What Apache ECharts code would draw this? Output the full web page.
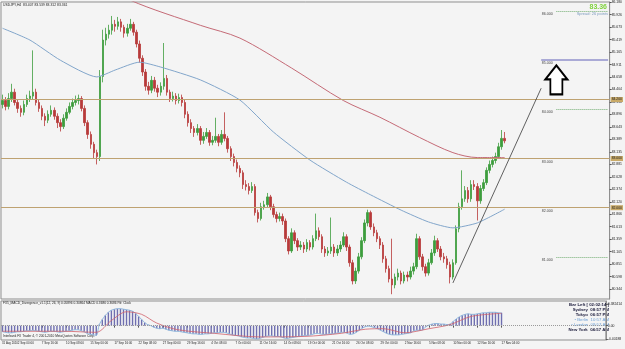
<!DOCTYPE html>
<html>
<head>
<meta charset="utf-8">
<script src="https://cdn.jsdelivr.net/npm/echarts@6/dist/echarts.min.js"></script>
<style>
html, body { margin: 0; padding: 0; background: #f4f4f4; }
#chart { width: 625px; height: 349px; }
</style>
</head>
<body>
<div id="chart"></div>
<script>
// USDJPY H4 terminal screenshot - candles (one candle per 8 hours)
var closes = [
  84.18, 84.06, 84.22, 84.35, 84.14, 84.02, 83.94, 84.10, 84.22, 84.27,
  84.35, 84.14, 84.02, 83.86, 83.78, 83.90, 83.98, 83.86, 83.73, 83.65,
  83.82, 83.94, 84.06, 84.14, 84.18, 84.22, 84.02, 83.73, 83.49, 83.29,
  83.12, 83.04, 84.67, 85.41, 85.53, 85.61, 85.73, 85.69, 85.78, 85.67,
  85.55, 85.65, 85.73, 85.57, 85.33, 85.04, 84.76, 84.47, 84.39, 84.59,
  84.43, 84.35, 84.47, 84.63, 84.35, 84.22, 84.27, 84.18, 84.24, 84.14,
  83.90, 83.73, 83.61, 83.53, 83.61, 83.37, 83.45, 83.53, 83.33, 83.37,
  83.45, 83.33, 83.49, 83.41, 83.20, 83.04, 82.92, 82.80, 82.71, 82.47,
  82.43, 82.35, 82.43, 81.90, 81.78, 82.02, 82.06, 82.22, 82.02, 81.86,
  81.78, 81.82, 81.73, 81.37, 81.12, 81.49, 81.33, 81.20, 81.24, 81.16,
  81.29, 81.20, 81.37, 81.53, 81.41, 81.16, 81.08, 81.12, 81.20, 81.08,
  81.16, 81.24, 81.41, 81.20, 80.88, 80.51, 80.71, 81.00, 81.33, 81.69,
  81.90, 81.61, 81.49, 81.37, 81.24, 80.96, 80.76, 80.55, 80.43, 80.59,
  80.67, 80.51, 80.63, 80.59, 80.71, 80.80, 81.37, 81.00, 80.80, 80.67,
  80.88, 81.08, 81.33, 81.16, 81.00, 80.96, 80.84, 80.59, 80.88, 81.57,
  82.02, 82.18, 82.35, 82.18, 82.47, 82.43, 82.14, 82.39, 82.51, 82.76,
  82.88, 82.96, 83.04, 83.24, 83.41, 83.36
];
var highs = [
  84.30, 84.25, 84.33, 84.52, 84.42, 84.20, 84.08, 84.18, 84.30, 84.38,
  85.20, 84.42, 84.20, 84.08, 83.92, 83.98, 84.08, 84.04, 83.92, 83.80,
  83.90, 84.02, 84.14, 84.22, 84.28, 84.30, 84.27, 84.08, 83.78, 83.55,
  83.34, 83.18, 84.80, 85.62, 85.66, 85.72, 85.90, 85.82, 85.88, 85.84,
  85.72, 85.74, 85.84, 85.78, 85.62, 85.40, 85.10, 84.82, 84.56, 84.68,
  84.66, 84.50, 84.55, 85.35, 84.70, 84.40, 84.36, 84.33, 84.32, 84.30,
  84.20, 83.96, 83.80, 83.66, 83.70, 83.66, 83.54, 83.62, 83.58, 83.46,
  83.83, 83.50, 83.58, 83.94, 83.46, 83.25, 83.10, 82.98, 82.86, 82.76,
  82.56, 82.50, 82.52, 82.48, 81.96, 82.10, 82.14, 82.30, 82.26, 82.08,
  81.92, 81.90, 81.88, 81.78, 81.42, 81.58, 81.54, 81.38, 81.32, 81.30,
  81.36, 81.34, 81.44, 81.88, 81.60, 81.46, 81.22, 81.20, 81.80, 81.26,
  81.24, 81.32, 81.50, 81.46, 81.25, 80.94, 80.78, 81.08, 81.40, 81.76,
  81.96, 81.94, 81.68, 81.55, 81.42, 81.30, 81.02, 80.82, 81.37, 80.66,
  80.76, 80.72, 80.70, 80.70, 80.80, 80.88, 81.47, 81.42, 81.06, 80.86,
  80.96, 81.16, 81.43, 81.38, 81.22, 81.08, 81.02, 80.90, 80.95, 81.64,
  82.10, 82.76, 82.44, 82.42, 82.56, 82.56, 82.50, 82.46, 82.58, 82.82,
  82.96, 83.04, 83.12, 83.32, 83.58, 83.54
];
var lows = [
  84.02, 83.98, 84.00, 84.15, 84.08, 83.93, 83.85, 83.88, 84.05, 84.15,
  84.20, 84.08, 83.95, 83.78, 83.66, 83.72, 83.85, 83.79, 83.62, 83.55,
  83.60, 83.77, 83.90, 84.00, 84.08, 84.10, 83.96, 83.66, 83.40, 83.20,
  83.00, 82.88, 82.95, 84.55, 85.30, 85.44, 85.52, 85.58, 85.62, 85.58,
  85.46, 85.48, 85.60, 85.50, 85.26, 84.95, 84.68, 84.38, 84.30, 84.33,
  84.36, 84.25, 84.28, 84.40, 84.28, 84.15, 84.16, 84.10, 84.12, 84.06,
  83.82, 83.65, 83.52, 83.44, 83.47, 83.28, 83.30, 83.40, 83.26, 83.27,
  83.32, 83.25, 83.28, 83.35, 83.12, 82.95, 82.84, 82.72, 82.62, 82.38,
  82.35, 82.27, 82.30, 81.84, 81.70, 81.74, 81.96, 82.00, 81.95, 81.80,
  81.70, 81.72, 81.65, 81.30, 81.05, 81.08, 81.26, 81.12, 81.14, 81.08,
  81.10, 81.13, 81.15, 81.32, 81.34, 81.08, 81.00, 81.02, 81.06, 81.00,
  81.02, 81.10, 81.20, 81.12, 80.80, 80.44, 80.45, 80.66, 80.95, 81.28,
  81.62, 81.55, 81.42, 81.30, 81.16, 80.88, 80.68, 80.48, 80.24, 80.36,
  80.52, 80.44, 80.46, 80.50, 80.54, 80.64, 80.75, 80.94, 80.72, 80.60,
  80.62, 80.84, 81.02, 81.10, 80.93, 80.88, 80.76, 80.46, 80.54, 80.84,
  81.50, 81.96, 82.12, 82.10, 82.12, 82.36, 81.74, 82.08, 82.34, 82.46,
  82.70, 82.82, 82.90, 83.00, 83.18, 83.31
];
var firstOpen = 84.10;

var macdHist = [
  -0.12, -0.13, -0.14, -0.14, -0.13, -0.12, -0.12, -0.11, -0.10, -0.10, -0.09,
  -0.10, -0.11, -0.12, -0.13, -0.12, -0.11, -0.11, -0.12, -0.13, -0.12,
  -0.11, -0.10, -0.09, -0.08, -0.08, -0.10, -0.12, -0.15, -0.17, -0.18, -0.19,
  0.02, 0.12, 0.20, 0.26, 0.30, 0.32, 0.33, 0.33, 0.32, 0.31, 0.30, 0.28, 0.24, 0.18, 0.12, 0.06, 0.02, 0.00, -0.03,
  -0.05, -0.06, -0.05, -0.07, -0.09, -0.10, -0.11, -0.11, -0.12, -0.13,
  -0.14, -0.15, -0.16, -0.16, -0.17, -0.17, -0.16, -0.16, -0.15, -0.14,
  -0.14, -0.13, -0.13, -0.14, -0.16, -0.18, -0.19, -0.20, -0.22, -0.23,
  -0.24, -0.24, -0.25, -0.26, -0.25, -0.23, -0.21, -0.20, -0.20, -0.21,
  -0.21, -0.22, -0.24, -0.25, -0.24, -0.23, -0.22, -0.21, -0.20, -0.19,
  -0.19, -0.18, -0.16, -0.15, -0.16, -0.17, -0.17, -0.16, -0.16, -0.15,
  -0.14, -0.13, -0.13, -0.15, -0.17, -0.16, -0.13, -0.09, -0.05, -0.02,
  -0.01, -0.02, -0.04, -0.06, -0.09, -0.12, -0.15, -0.17, -0.18, -0.18,
  -0.18, -0.17, -0.16, -0.15, -0.14, -0.10, -0.09, -0.09, -0.08,
  -0.02, 0.01, 0.03, 0.04, 0.04, 0.03, 0.03, 0.02, 0.03,
  0.08, 0.13, 0.17, 0.20, 0.22, 0.23, 0.22, 0.22, 0.23, 0.24, 0.25, 0.25,
  0.26, 0.26, 0.26, 0.25, 0.25
];
var signalIdx = [0, 20, 31, 36, 41, 46, 51, 58, 70, 85, 100, 112, 120, 126, 133, 141, 148, 155, 165];
var signalVal = [-0.11, -0.11, -0.13, 0.10, 0.27, 0.22, 0.05, -0.08, -0.15, -0.22, -0.21, -0.15, -0.07, -0.06, -0.14, -0.06, 0.02, 0.18, 0.24];

// moving averages, read at a few points
var blueMaIdx = [0, 9, 19, 31, 37, 45, 52, 65, 78, 89, 101, 113, 121, 131, 140, 148, 156, 165];
var blueMaVal = [85.65, 85.41, 85.00, 84.66, 84.80, 84.96, 84.86, 84.60, 84.19, 83.54, 82.97, 82.52, 82.26, 81.95, 81.71, 81.59, 81.69, 81.97];
var redMaIdx = [0, 20, 42, 65, 78, 95, 112, 124, 137, 148, 156, 165];
var redMaVal = [87.45, 86.94, 86.22, 85.71, 85.45, 84.84, 84.18, 83.84, 83.43, 83.12, 83.02, 83.02];

// first label (31 Aug 2010) sits too close to the next one for the axis, drawn as text below
var firstTimeLabel = '31 Aug 2010';
var xTickIdx = [5, 13, 21, 29, 37, 45, 53, 61, 69, 77, 85, 93, 101, 109, 117, 125, 133, 141, 149, 157, 165];
var xTickLabels = ['2 Sep 00:00', '7 Sep 16:00', '10 Sep 08:00', '15 Sep 00:00', '17 Sep 16:00',
  '22 Sep 08:00', '27 Sep 00:00', '29 Sep 16:00', '4 Oct 08:00', '7 Oct 00:00', '11 Oct 16:00', '14 Oct 08:00',
  '19 Oct 00:00', '21 Oct 16:00', '26 Oct 08:00', '29 Oct 00:00', '2 Nov 16:00', '5 Nov 08:00', '10 Nov 00:00',
  '12 Nov 16:00', '17 Nov 04:00'];
var priceTicks = [86.180, 85.926, 85.673, 85.419, 85.165, 84.911, 84.658, 84.404, 84.150, 83.896, 83.643, 83.389,
  83.135, 82.881, 82.628, 82.374, 82.120, 81.866, 81.613, 81.359, 81.105, 80.851, 80.598, 80.344];
var macdTicks = [0.42, 0, -0.26];
var macdTickText = ['0.382414', '0.00', '-0.40188'];

var hLines = [84.2, 83.0, 82.0];
var levelTexts = [86, 85, 84, 83, 82, 81];
var dottedLevels = [86, 84, 81];
var lastPrice = 83.361;
var slots = 200;

var bull = '#3d9d3d', bear = '#b73a3a';
var small = 'Liberation Sans';

var cats = [];
for (var i = 0; i < slots; i++) cats.push(String(i));

var candles = closes.map(function (c, i) {
  var o = i === 0 ? firstOpen : closes[i - 1];
  return [o, c, lows[i], highs[i]];
});

function sparse(idx, vals) {
  var out = [];
  for (var k = 0; k < slots; k++) out.push(null);
  idx.forEach(function (p, j) { out[p] = vals[j]; });
  return out;
}

var tickAt = {};
xTickIdx.forEach(function (p, j) { tickAt[p] = xTickLabels[j]; });

var lineMarks = [];
hLines.forEach(function (v) {
  lineMarks.push({
    yAxis: v,
    lineStyle: { color: '#bea271', width: 1.2, type: 'solid' },
    label: { show: true, position: 'end', distance: 1, formatter: v.toFixed(3), fontSize: 3.4,
      fontFamily: small, color: '#222', backgroundColor: '#c9aa68', padding: [1, 1] }
  });
});
dottedLevels.forEach(function (v) {
  lineMarks.push([
    { coord: [182, v], lineStyle: { color: '#72ad72', width: 1, type: 'dotted' } },
    { coord: [199, v] }
  ]);
});
lineMarks.push([
  { coord: [177, 85], lineStyle: { color: '#aaaad6', width: 2, type: 'solid' } },
  { coord: [199, 85] }
]);
lineMarks.push([
  { coord: [148, 80.47], lineStyle: { color: '#3a3a3a', width: 0.8, type: 'solid' } },
  { coord: [177, 84.43] }
]);
lineMarks.push({
  yAxis: lastPrice,
  lineStyle: { opacity: 0 },
  label: { show: true, position: 'end', distance: 1, formatter: '83.361', fontSize: 3.4,
    fontFamily: small, color: '#fff', backgroundColor: '#000', padding: [1, 1] }
});

var pointMarks = levelTexts.map(function (v) {
  return {
    name: v.toFixed(3), coord: [177, v], symbol: 'rect', symbolSize: 1,
    itemStyle: { color: 'transparent' },
    label: { show: true, position: 'right', distance: 0, offset: [0, 3], formatter: '{b}',
      fontSize: 3.6, fontFamily: small, color: '#444' }
  };
});
pointMarks.push({
  coord: [182, 84.60],
  symbol: 'path://M11,0 L22,14 L17,14 L17,29 L5,29 L5,14 L0,14 Z',
  symbolSize: [22, 29],
  itemStyle: { color: '#fff', borderColor: '#000', borderWidth: 2 },
  label: { show: false }
});

var chart = echarts.init(document.getElementById('chart'));
chart.setOption({
  animation: false,
  backgroundColor: '#f4f4f4',
  grid: [
    { left: 1, right: 15, top: 2, height: 297, show: true, borderColor: '#8f8f8f', borderWidth: 1 },
    { left: 1, right: 15, top: 301, height: 39, show: true, borderColor: '#8f8f8f', borderWidth: 1 }
  ],
  xAxis: [
    { type: 'category', gridIndex: 0, data: cats, boundaryGap: true,
      axisLine: { show: false }, axisTick: { show: false }, axisLabel: { show: false } },
    { type: 'category', gridIndex: 1, data: cats, boundaryGap: true,
      axisLine: { show: false },
      axisTick: { show: true, alignWithLabel: true, length: 2, lineStyle: { color: '#555' },
        interval: function (idx) { return idx === 0 || tickAt[idx] !== undefined; } },
      axisLabel: { show: true, fontSize: 3.0, fontFamily: small, color: '#222', margin: 2, align: 'left',
        hideOverlap: false, showMinLabel: true, showMaxLabel: true,
        interval: function (idx) { return tickAt[idx] !== undefined; },
        formatter: function (v, idx) { return tickAt[idx] || ''; } } }
  ],
  yAxis: [
    { type: 'value', gridIndex: 0, position: 'right', min: 80.143, max: 86.184, scale: true,
      splitLine: { show: false },
      axisLine: { show: true, lineStyle: { color: '#8f8f8f' } },
      axisTick: { show: true, length: 2, customValues: priceTicks, lineStyle: { color: '#555' } },
      axisLabel: { show: true, customValues: priceTicks, fontSize: 3.4, fontFamily: small, color: '#222', margin: 2,
        formatter: function (v) { return v.toFixed(3); } } },
    { type: 'value', gridIndex: 1, position: 'right', min: -0.28, max: 0.48,
      splitLine: { show: false },
      axisLine: { show: true, lineStyle: { color: '#8f8f8f' } },
      axisTick: { show: true, length: 2, customValues: macdTicks, lineStyle: { color: '#555' } },
      axisLabel: { show: true, customValues: macdTicks, fontSize: 3.4, fontFamily: small, color: '#222', margin: 2,
        formatter: function (v) { return macdTickText[macdTicks.indexOf(v)] || ''; } } }
  ],
  series: [
    { name: 'USDJPY', type: 'candlestick', xAxisIndex: 0, yAxisIndex: 0, data: candles, barWidth: 2,
      itemStyle: { color: bull, color0: bear, borderColor: bull, borderColor0: bear, borderWidth: 0.8 },
      markLine: { silent: true, symbol: ['none', 'none'], animation: false, data: lineMarks },
      markPoint: { silent: true, animation: false, data: pointMarks } },
    { name: 'MA slow', type: 'line', xAxisIndex: 0, yAxisIndex: 0, data: sparse(redMaIdx, redMaVal),
      connectNulls: true, smooth: 0.3, showSymbol: false, lineStyle: { color: '#c46a76', width: 1 } },
    { name: 'MA fast', type: 'line', xAxisIndex: 0, yAxisIndex: 0, data: sparse(blueMaIdx, blueMaVal),
      connectNulls: true, smooth: 0.2, showSymbol: false, lineStyle: { color: '#82a6cb', width: 1 } },
    { name: 'MACD', type: 'bar', xAxisIndex: 1, yAxisIndex: 1, data: macdHist, barWidth: 1.4,
      itemStyle: { color: '#6f6fb0' },
      markLine: { silent: true, symbol: ['none', 'none'], label: { show: false },
        lineStyle: { color: '#9a9a9a', type: 'dotted', width: 1 }, data: [{ yAxis: 0 }] } },
    { name: 'MACD line', type: 'line', xAxisIndex: 1, yAxisIndex: 1, data: macdHist, smooth: 0.3,
      showSymbol: false, lineStyle: { color: '#8fb7dc', width: 1 } },
    { name: 'Signal', type: 'line', xAxisIndex: 1, yAxisIndex: 1, data: sparse(signalIdx, signalVal),
      connectNulls: true, smooth: 0.3, showSymbol: false, lineStyle: { color: '#d0606a', width: 0.8 } }
  ],
  graphic: [
    { type: 'text', x: 3, y: 4, style: { text: 'USDJPY,H4  83.407 83.539 83.312 83.361', fontSize: 3.4, fontFamily: small, fill: '#222' } },
    { type: 'text', x: 2, y: 342, style: { text: firstTimeLabel, fontSize: 2.8, fontFamily: small, fill: '#222' } },
    { type: 'text', x: 607, y: 4, style: { text: '83.36', fontSize: 7, fontWeight: 'bold', fontFamily: small, fill: '#80d23e', align: 'right' } },
    { type: 'text', x: 608, y: 12, style: { text: 'Spread: 26 points', fontSize: 4, fontFamily: small, fill: '#7f9dc0', align: 'right' } },
    { type: 'text', x: 3, y: 302, style: { text: 'FX5_MACD_Divergence_v1.1(12, 26, 9) 0.05896 0.30864 MACD 0.3686 0.3686 Pd: Clock', fontSize: 3.2, fontFamily: small, fill: '#222' } },
    { type: 'text', x: 3, y: 335, style: { text: 'Interbank FX Trader 4, \u00a9 2001-2010 MetaQuotes Software Corp.', fontSize: 3.2, fontFamily: small, fill: '#222' } },
    { type: 'text', x: 609, y: 303, style: { text: 'Bar Left [ 02:02:14 ]', fontSize: 4.3, fontWeight: 'bold', fontFamily: small, fill: '#1a1a3a', align: 'right' } },
    { type: 'text', x: 609, y: 308, style: { text: 'Sydney  08:57 PM', fontSize: 4.3, fontWeight: 'bold', fontFamily: small, fill: '#1a1a3a', align: 'right' } },
    { type: 'text', x: 609, y: 313, style: { text: 'Tokyo  06:57 PM', fontSize: 4.3, fontWeight: 'bold', fontFamily: small, fill: '#1a1a3a', align: 'right' } },
    { type: 'text', x: 609, y: 318, style: { text: '\u2022 Berlin  10:57 AM', fontSize: 4.3, fontFamily: small, fill: '#6c9fd6', align: 'right' } },
    { type: 'text', x: 609, y: 323, style: { text: '\u2022 London  09:57 AM', fontSize: 4.3, fontFamily: small, fill: '#6c9fd6', align: 'right' } },
    { type: 'text', x: 609, y: 328, style: { text: 'New York  04:57 AM', fontSize: 4.3, fontWeight: 'bold', fontFamily: small, fill: '#1a1a3a', align: 'right' } }
  ]
});
</script>
</body>
</html>
